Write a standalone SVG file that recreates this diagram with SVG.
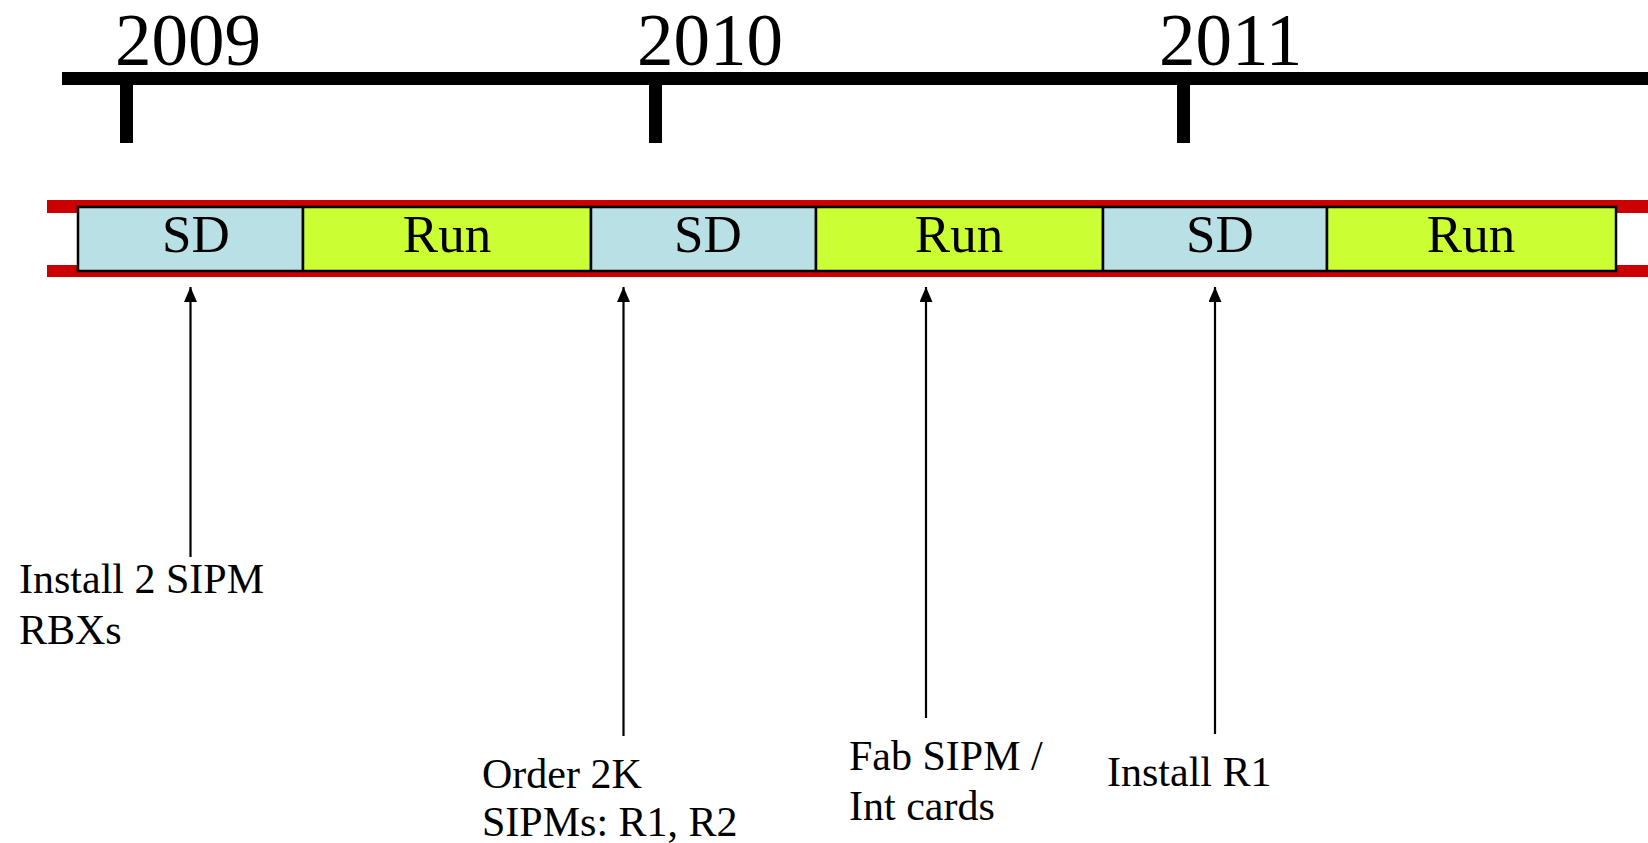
<svg xmlns="http://www.w3.org/2000/svg" width="1648" height="843" viewBox="0 0 1648 843">
<style>
.yr{font-family:"Liberation Serif","Times New Roman",serif;font-size:73px;fill:#000}
.bx{font-family:"Liberation Serif","Times New Roman",serif;font-size:53px;fill:#000;text-anchor:middle}
.lb{font-family:"Liberation Serif","Times New Roman",serif;font-size:42px;fill:#000}
.sd{fill:#B9E0E5;stroke:#000;stroke-width:2.5}
.run{fill:#CCFF33;stroke:#000;stroke-width:2.5}
.ar{stroke:#000;stroke-width:2.2;fill:none;marker-end:url(#ah)}
</style>
<defs>
<marker id="ah" markerWidth="15" markerHeight="13" refX="15" refY="6.5" orient="auto" markerUnits="userSpaceOnUse" viewBox="0 0 15 13">
<path d="M0,0 L15,6.5 L0,13 Z" fill="#000"/>
</marker>
</defs>
<rect width="1648" height="843" fill="#fff"/>
<g id="timeline">
<rect x="62" y="72" width="1586" height="13" fill="#000"/>
<rect x="120" y="85" width="13" height="58" fill="#000"/>
<rect x="649" y="85" width="13" height="58" fill="#000"/>
<rect x="1177" y="85" width="13" height="58" fill="#000"/>
<text class="yr" x="115" y="65">2009</text>
<text class="yr" x="637" y="65">2010</text>
<text class="yr" x="1159" y="65">2011</text>
</g>
<g id="band">
<rect x="47" y="200" width="1601" height="13" fill="#CC0000"/>
<rect x="47" y="265" width="1601" height="12" fill="#CC0000"/>
</g>
<g id="sd1"><rect class="sd" x="78" y="207" width="225" height="64"/><text class="bx" x="196" y="252">SD</text></g>
<g id="run1"><rect class="run" x="303" y="207" width="288" height="64"/><text class="bx" x="447" y="252">Run</text></g>
<g id="sd2"><rect class="sd" x="591" y="207" width="225" height="64"/><text class="bx" x="708" y="252">SD</text></g>
<g id="run2"><rect class="run" x="816" y="207" width="287" height="64"/><text class="bx" x="959" y="252">Run</text></g>
<g id="sd3"><rect class="sd" x="1103" y="207" width="224" height="64"/><text class="bx" x="1220" y="252">SD</text></g>
<g id="run3"><rect class="run" x="1327" y="207" width="289" height="64"/><text class="bx" x="1471" y="252">Run</text></g>
<g id="connectors">
<line class="ar" x1="190.5" y1="557" x2="190.5" y2="287"/>
<line class="ar" x1="623.5" y1="736" x2="623.5" y2="287"/>
<line class="ar" x1="926" y1="718" x2="926" y2="287"/>
<line class="ar" x1="1215" y1="734" x2="1215" y2="287"/>
</g>
<g id="label1"><text class="lb" x="19" y="593">Install 2 SIPM</text><text class="lb" x="19" y="644">RBXs</text></g>
<g id="label2"><text class="lb" x="482" y="788">Order 2K</text><text class="lb" x="482" y="836">SIPMs: R1, R2</text></g>
<g id="label3"><text class="lb" x="849" y="770">Fab SIPM /</text><text class="lb" x="849" y="820">Int cards</text></g>
<g id="label4"><text class="lb" x="1107" y="786">Install R1</text></g>
</svg>
